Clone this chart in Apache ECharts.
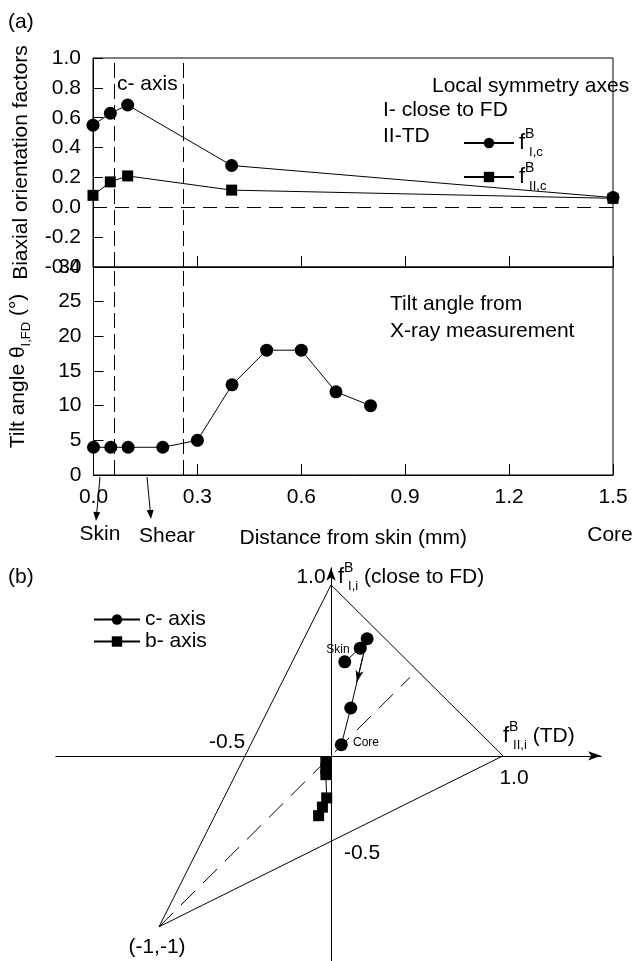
<!DOCTYPE html>
<html>
<head>
<meta charset="utf-8">
<script src="https://cdn.jsdelivr.net/npm/echarts@6/dist/echarts.min.js"></script>
<style>
  html, body { margin: 0; padding: 0; background: #fff; }
  #chart { width: 635px; height: 961px; }
</style>
</head>
<body>
<div id="chart"></div>
<script>
// ---------------------------------------------------------------------------
// Data
// ---------------------------------------------------------------------------
// (a) top: biaxial orientation factors vs distance from skin
const distOrient = [0, 0.05, 0.1, 0.4, 1.5];
const fIc = [0.55, 0.63, 0.685, 0.28, 0.065];
const fIIc = [0.08, 0.17, 0.21, 0.115, 0.06];

// (a) bottom: tilt angle from X-ray
const distTilt = [0, 0.05, 0.1, 0.2, 0.3, 0.4, 0.5, 0.6, 0.7, 0.8];
const tiltAngle = [4, 4, 4, 4, 5, 13, 18, 18, 12, 10];

// skin / shear / core zone boundaries (mm)
const zoneBounds = [0.055, 0.262];

// (b) triangle diagram, x = f_II (TD), y = f_I (close to FD)
const bAxisTD = [-0.03, -0.03, -0.03, -0.025, -0.05, -0.072];
const bAxisFD = [-0.035, -0.075, -0.11, -0.246, -0.3, -0.35];
const triangleX = [0, 1, -1, 0];
const triangleY = [1, 0, -1, 1];
const diagonalX = [-1, 0.46];
const diagonalY = [-1, 0.46];

const zip = (xs, ys) => xs.map((x, i) => [x, ys[i]]);

// ---------------------------------------------------------------------------
// Chart
// ---------------------------------------------------------------------------
const FONT = "Liberation Sans, Arial, sans-serif";
const chart = echarts.init(document.getElementById("chart"), null, { renderer: "canvas" });

const dashV = [15, 6];
const dashH = [14, 8];

const zoneMarkLine = {
  silent: true,
  symbol: "none",
  label: { show: false },
  lineStyle: { color: "#000", width: 1, type: dashV },
  data: zoneBounds.map((v) => ({ xAxis: v })),
};

const distAxis = (gridIndex, showLabels) => ({
  type: "value",
  gridIndex,
  min: 0,
  max: 1.5,
  interval: 0.3,
  axisLine: { onZero: false, lineStyle: { color: "#000", width: 1 } },
  axisTick: { show: true, inside: true, length: 11, lineStyle: { color: "#000" } },
  splitLine: { show: false },
  axisLabel: {
    show: showLabels,
    color: "#000",
    fontFamily: FONT,
    fontSize: 21,
    margin: 12,
    formatter: (v) => v.toFixed(1),
  },
  name: showLabels ? "Distance from skin (mm)" : "",
  nameLocation: "middle",
  nameGap: 53,
  nameTextStyle: { color: "#000", fontFamily: FONT, fontSize: 21 },
});

const fLabel = (sub, extra) => ({
  text: "{f|f}{sp|B}{sb|" + sub + "}" + (extra ? "{t|" + extra + "}" : ""),
  rich: {
    f: { fontFamily: FONT, fontSize: 22, lineHeight: 32, color: "#000" },
    sp: { fontFamily: FONT, fontSize: 14, verticalAlign: "top", width: 4, color: "#000" },
    sb: { fontFamily: FONT, fontSize: 13, verticalAlign: "bottom", color: "#000" },
    t: { fontFamily: FONT, fontSize: 21, color: "#000" },
  },
});

const txt = (text, x, y, align, size) => ({
  type: "text",
  x,
  y,
  style: {
    text,
    fill: "#000",
    font: (size || 21) + "px " + FONT,
    align: align || "left",
    verticalAlign: "middle",
  },
});

const arrow = (x1, y1, x2, y2) => {
  const a = Math.atan2(y2 - y1, x2 - x1);
  const L = 9, W = 3.5;
  const bx = x2 - L * Math.cos(a), by = y2 - L * Math.sin(a);
  return {
    type: "group",
    children: [
      { type: "line", shape: { x1, y1, x2: bx, y2: by }, style: { stroke: "#000", lineWidth: 1 } },
      {
        type: "polygon",
        shape: {
          points: [
            [x2, y2],
            [bx + W * Math.sin(a), by - W * Math.cos(a)],
            [bx - W * Math.sin(a), by + W * Math.cos(a)],
          ],
        },
        style: { fill: "#000" },
      },
    ],
  };
};

const fI = fLabel("I,i", " (close to FD)");
const fII = fLabel("II,i", " (TD)");

const option = {
  animation: false,
  backgroundColor: "#fff",
  textStyle: { fontFamily: FONT },
  grid: [
    { left: 93, top: 58, width: 520, height: 209, show: true, borderColor: "#000", borderWidth: 1 },
    { left: 93, top: 267, width: 520, height: 208, show: true, borderColor: "#000", borderWidth: 1 },
    { left: 55.8, top: 567.8, width: 545.24, height: 395.6 },
  ],
  xAxis: [
    distAxis(0, false),
    distAxis(1, true),
    {
      type: "value",
      gridIndex: 2,
      min: -1.6,
      max: 1.57,
      axisLine: {
        onZero: true,
        symbol: ["none", "arrow"],
        symbolSize: [7, 13],
        lineStyle: { color: "#000", width: 1 },
      },
      axisTick: { show: false },
      axisLabel: { show: false },
      splitLine: { show: false },
    },
  ],
  yAxis: [
    {
      type: "value",
      gridIndex: 0,
      min: -0.4,
      max: 1.0,
      interval: 0.2,
      axisLine: { lineStyle: { color: "#000", width: 1 } },
      axisTick: { show: true, inside: true, length: 10, lineStyle: { color: "#000" } },
      splitLine: { show: false },
      axisLabel: {
        color: "#000",
        fontFamily: FONT,
        fontSize: 21,
        margin: 12,
        formatter: (v) => v.toFixed(1),
      },
      name: "Biaxial orientation factors",
      nameLocation: "middle",
      nameRotate: 90,
      nameGap: 61,
      nameTextStyle: { color: "#000", fontFamily: FONT, fontSize: 21 },
    },
    {
      type: "value",
      gridIndex: 1,
      min: 0,
      max: 30,
      interval: 5,
      axisLine: { lineStyle: { color: "#000", width: 1 } },
      axisTick: { show: true, inside: true, length: 10, lineStyle: { color: "#000" } },
      splitLine: { show: false },
      axisLabel: { color: "#000", fontFamily: FONT, fontSize: 21, margin: 12 },
      name: "{t|Tilt angle θ}{s|I,FD}{t| (°)}",
      nameLocation: "middle",
      nameRotate: 90,
      nameGap: 61,
      nameTextStyle: {
        color: "#000",
        fontFamily: FONT,
        fontSize: 21,
        rich: {
          t: { fontFamily: FONT, fontSize: 21, lineHeight: 28, color: "#000" },
          s: { fontFamily: FONT, fontSize: 13, verticalAlign: "bottom", color: "#000" },
        },
      },
    },
    {
      type: "value",
      gridIndex: 2,
      min: -1.2,
      max: 1.1,
      axisLine: {
        onZero: true,
        symbol: ["none", "arrow"],
        symbolSize: [7, 13],
        lineStyle: { color: "#000", width: 1 },
      },
      axisTick: { show: false },
      axisLabel: { show: false },
      splitLine: { show: false },
    },
  ],
  legend: [
    {
      data: ["fI", "fII"],
      left: 458,
      top: 122,
      orient: "vertical",
      itemWidth: 50,
      itemHeight: 13,
      itemGap: 2,
      selectedMode: false,
      formatter: (name) =>
        name === "fI" ? "{f|f}{sp|B}{sb|I,c}" : "{f|f}{sp|B}{sb|II,c}",
      textStyle: {
        color: "#000",
        rich: fI.rich,
      },
    },
    {
      data: ["c- axis", "b- axis"],
      left: 88,
      top: 604,
      orient: "vertical",
      itemWidth: 46,
      itemHeight: 13,
      itemGap: 1,
      selectedMode: false,
      textStyle: { color: "#000", fontFamily: FONT, fontSize: 21, lineHeight: 21 },
    },
  ],
  series: [
    {
      name: "fII",
      type: "line",
      xAxisIndex: 0,
      yAxisIndex: 0,
      data: zip(distOrient, fIIc),
      symbol: "rect",
      symbolSize: 11,
      itemStyle: { color: "#000" },
      lineStyle: { color: "#000", width: 1 },
    },
    {
      name: "fI",
      type: "line",
      xAxisIndex: 0,
      yAxisIndex: 0,
      data: zip(distOrient, fIc),
      symbol: "circle",
      symbolSize: 13,
      itemStyle: { color: "#000" },
      lineStyle: { color: "#000", width: 1 },
      markLine: {
        silent: true,
        symbol: "none",
        label: { show: false },
        data: [
          ...zoneBounds.map((v) => ({ xAxis: v, lineStyle: { color: "#000", width: 1, type: dashV } })),
          { yAxis: 0, lineStyle: { color: "#000", width: 1, type: dashH } },
        ],
      },
    },
    {
      name: "tilt",
      type: "line",
      xAxisIndex: 1,
      yAxisIndex: 1,
      data: zip(distTilt, tiltAngle),
      symbol: "circle",
      symbolSize: 13,
      itemStyle: { color: "#000" },
      lineStyle: { color: "#000", width: 1 },
      markLine: zoneMarkLine,
    },
    {
      name: "triangle",
      type: "line",
      xAxisIndex: 2,
      yAxisIndex: 2,
      data: zip(triangleX, triangleY),
      symbol: "none",
      lineStyle: { color: "#000", width: 1 },
      silent: true,
    },
    {
      name: "diagonal",
      type: "line",
      xAxisIndex: 2,
      yAxisIndex: 2,
      data: zip(diagonalX, diagonalY),
      symbol: "none",
      lineStyle: { color: "#000", width: 1, type: [20, 11] },
      silent: true,
    },
    {
      name: "c- axis",
      type: "line",
      xAxisIndex: 2,
      yAxisIndex: 2,
      data: zip(fIIc, fIc),
      symbol: "circle",
      symbolSize: 13,
      itemStyle: { color: "#000" },
      lineStyle: { color: "#000", width: 1 },
      markLine: {
        silent: true,
        symbol: ["none", "arrow"],
        symbolSize: [6, 12],
        label: { show: false },
        lineStyle: { color: "#000", width: 1, type: "solid" },
        data: [[{ coord: [0.185, 0.58] }, { coord: [0.15, 0.43] }]],
      },
    },
    {
      name: "b- axis",
      type: "line",
      xAxisIndex: 2,
      yAxisIndex: 2,
      data: zip(bAxisTD, bAxisFD),
      symbol: "rect",
      symbolSize: 11,
      itemStyle: { color: "#000" },
      lineStyle: { color: "#000", width: 1 },
    },
  ],
  graphic: [
    // panel (a) annotations
    txt("(a)", 8, 22),
    txt("c- axis", 117, 84),
    txt("Local symmetry axes", 432, 86),
    txt("I- close to FD", 383, 110),
    txt("II-TD", 383, 136),
    txt("Tilt angle from", 390, 304),
    txt("X-ray measurement", 390, 331),
    txt("Skin", 100, 534, "center"),
    txt("Shear", 167, 536, "center"),
    txt("Core", 610, 535, "center"),
    arrow(100, 477, 96, 521),
    arrow(147, 477, 151, 519),
    // panel (b) annotations
    txt("(b)", 8, 577),
    txt("1.0", 311, 577, "center"),
    {
      type: "text",
      x: 338,
      y: 577,
      style: { text: fI.text, rich: fI.rich, fill: "#000", verticalAlign: "middle" },
    },
    {
      type: "text",
      x: 503,
      y: 736,
      style: { text: fII.text, rich: fII.rich, fill: "#000", verticalAlign: "middle" },
    },
    txt("-0.5", 227, 742, "center"),
    txt("1.0", 514, 778, "center"),
    txt("-0.5", 362, 853, "center"),
    txt("(-1,-1)", 157, 947, "center"),
    txt("Skin", 338, 650, "center", 12),
    txt("Core", 353, 743, "left", 12),
  ],
};

chart.setOption(option);
</script>
</body>
</html>
